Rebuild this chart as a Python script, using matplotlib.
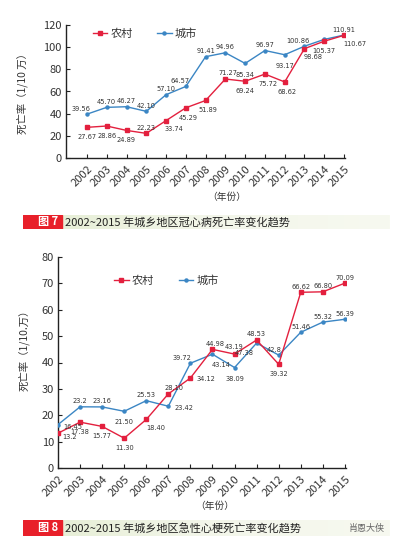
import matplotlib
matplotlib.use("Agg")
import matplotlib.pyplot as plt
from matplotlib.patches import Rectangle
from matplotlib.colors import LinearSegmentedColormap
import numpy as np

plt.rcParams['font.family'] = ['Noto Sans CJK SC', 'DejaVu Sans']

years = list(range(2002, 2016))
year_labels = [str(y) for y in years]

# Figure 7: coronary heart disease mortality
chd_rural = [27.67, 28.86, 24.89, 22.23, 33.74, 45.29, 51.89, 71.27, 69.24, 75.72, 68.62, 98.68, 105.37, 110.67]
chd_urban = [39.56, 45.70, 46.27, 42.10, 57.10, 64.57, 91.41, 94.96, 85.34, 96.97, 93.17, 100.86, 107.00, 110.91]
chd_rural_text = ['27.67', '28.86', '24.89', '22.23', '33.74', '45.29', '51.89', '71.27', '69.24', '75.72', '68.62', '98.68', '105.37', '110.67']
chd_urban_text = ['39.56', '45.70', '46.27', '42.10', '57.10', '64.57', '91.41', '94.96', '85.34', '96.97', '93.17', '100.86', '', '110.91']

# Figure 8: acute myocardial infarction mortality
ami_rural = [13.2, 17.38, 15.77, 11.30, 18.40, 28.10, 34.12, 44.98, 43.19, 48.53, 39.32, 66.62, 66.80, 70.09]
ami_urban = [16.45, 23.2, 23.16, 21.50, 25.53, 23.42, 39.72, 43.14, 38.09, 47.38, 42.8, 51.46, 55.32, 56.39]
ami_rural_text = ['13.2', '17.38', '15.77', '11.30', '18.40', '28.10', '34.12', '44.98', '43.19', '48.53', '39.32', '66.62', '66.80', '70.09']
ami_urban_text = ['16.45', '23.2', '23.16', '21.50', '25.53', '23.42', '39.72', '43.14', '38.09', '47.38', '42.8', '51.46', '55.32', '56.39']

RED = '#e3203e'
BLUE = '#3b86c4'
TXT = '#333333'

W, H = 397, 548
fig = plt.figure(figsize=(W/100, H/100), dpi=100)

def fx(px): return px / W
def fy(py): return 1 - py / H

# label offsets (points): (dx, dy)
chd_rural_off = [(0,-7),(0,-7),(0,-7),(0,4),(6,-6),(2,-7),(2,-7),(2,4),(0,-7),(2,-7),(2,-7),(6,-6),(0,-7),(8,-6)]
chd_urban_off = [(-4,4),(0,4),(0,4),(0,4),(0,4),(-4,4),(0,4),(0,4),(0,-8),(0,4),(0,-8),(-5,4),(0,4),(0,4)]
ami_rural_off = [(8,-3),(0,-7),(0,-7),(0,-7),(7,-6),(4,4),(11,-1),(2,4),(0,5),(0,4),(0,-7),(0,4),(0,4),(0,4)]
ami_urban_off = [(11,-2),(0,4),(0,4),(0,-8),(0,4),(11,-1),(-6,4),(6,-8),(0,-8),(-9,-7),(-3,4),(0,4),(0,4),(0,4)]

def style_axes(ax, ylim, yticks, xlim):
    ax.set_xlim(*xlim)
    ax.set_ylim(*ylim)
    ax.set_yticks(yticks)
    ax.set_xticks(years)
    ax.set_xticklabels(year_labels, rotation=45, ha='right', va='top', rotation_mode='anchor')
    for s in ['top', 'right']:
        ax.spines[s].set_visible(False)
    for s in ['left', 'bottom']:
        ax.spines[s].set_color('#222222')
        ax.spines[s].set_linewidth(1.0)
    ax.tick_params(axis='both', direction='in', length=3, width=0.8, colors='#222222',
                   labelsize=8, labelcolor=TXT, pad=3)
    ax.tick_params(axis='x', pad=4)

def draw(ax, rural, urban, rtext, utext, roff, uoff):
    ax.plot(years, urban, color=BLUE, lw=1.0, marker='o', ms=2.2, label='城市', zorder=3)
    ax.plot(years, rural, color=RED, lw=1.0, marker='s', ms=3.0, label='农村', zorder=4)
    for vals, texts, offs in ((rural, rtext, roff), (urban, utext, uoff)):
        for x, v, t, (dx, dy) in zip(years, vals, texts, offs):
            if not t:
                continue
            ax.annotate(t, (x, v), xytext=(dx, dy), textcoords='offset points',
                        ha='center', va='center', fontsize=4.8, color=TXT,
                        family='DejaVu Sans', zorder=5)

# ---- Chart 1 ----
ax1 = fig.add_axes([fx(66), fy(158), fx(345)-fx(66), fy(25)-fy(158)])
style_axes(ax1, (0, 120), range(0, 121, 20), (2000.94, 2015.05))
draw(ax1, chd_rural, chd_urban, chd_rural_text, chd_urban_text, chd_rural_off, chd_urban_off)
ax1.set_ylabel('死亡率（1/10 万）', fontsize=7.5, color=TXT)
ax1.yaxis.set_label_coords(-0.135, 0.5)
h, l = ax1.get_legend_handles_labels()
ax1.legend([h[1], h[0]], [l[1], l[0]], loc='upper left', bbox_to_anchor=(0.06, 1.05),
           ncol=2, frameon=False, fontsize=8, handlelength=1.3, columnspacing=2.2,
           handletextpad=0.3, labelcolor=TXT)
fig.text(fx(227), fy(197), '（年份）', ha='center', va='center', fontsize=7, color=TXT)

# ---- Chart 2 ----
ax2 = fig.add_axes([fx(58), fy(468), fx(346)-fx(58), fy(257)-fy(468)])
style_axes(ax2, (0, 80), range(0, 81, 10), (2002, 2015.05))
draw(ax2, ami_rural, ami_urban, ami_rural_text, ami_urban_text, ami_rural_off, ami_urban_off)
ax2.set_ylabel('死亡率（1/10.万）', fontsize=7.5, color=TXT)
ax2.yaxis.set_label_coords(-0.10, 0.57)
h, l = ax2.get_legend_handles_labels()
ax2.legend([h[1], h[0]], [l[1], l[0]], loc='upper left', bbox_to_anchor=(0.16, 0.96),
           ncol=2, frameon=False, fontsize=8, handlelength=1.3, columnspacing=2.2,
           handletextpad=0.3, labelcolor=TXT)
fig.text(fx(215), fy(506), '（年份）', ha='center', va='center', fontsize=7, color=TXT)

# ---- Caption bars ----
def caption(y0, y1, num, text, wm=False):
    grad = np.linspace(0, 1, 256).reshape(1, -1)
    cmap = LinearSegmentedColormap.from_list('g', ['#e4edd2', '#f3f6ea', '#f7f9f0'])
    axb = fig.add_axes([fx(23), fy(y1), fx(390)-fx(23), fy(y0)-fy(y1)])
    axb.imshow(grad, aspect='auto', cmap=cmap, extent=(0, 1, 0, 1))
    axb.set_xlim(0, 1); axb.set_ylim(0, 1)
    axb.axis('off')
    axb.add_patch(Rectangle((0, 0), (62-23)/(390-23), 1, color='#e8202a', zorder=2))
    axb.text((58-23)/(390-23), 0.5, num, ha='right', va='center', color='white',
             fontsize=8, fontweight='bold', zorder=3)
    axb.text((65-23)/(390-23), 0.5, text, ha='left', va='center', color='#222222',
             fontsize=8, zorder=3)
    if wm:
        axb.text((385-23)/(390-23), 0.5, '肖恩大侠', ha='right', va='center',
                 color='#666666', fontsize=6.5, zorder=3)

caption(215, 229, '图 7', '2002~2015 年城乡地区冠心病死亡率变化趋势')
caption(520, 536, '图 8', '2002~2015 年城乡地区急性心梗死亡率变化趋势', wm=True)

fig.savefig('out.png', dpi=100, facecolor='white')
